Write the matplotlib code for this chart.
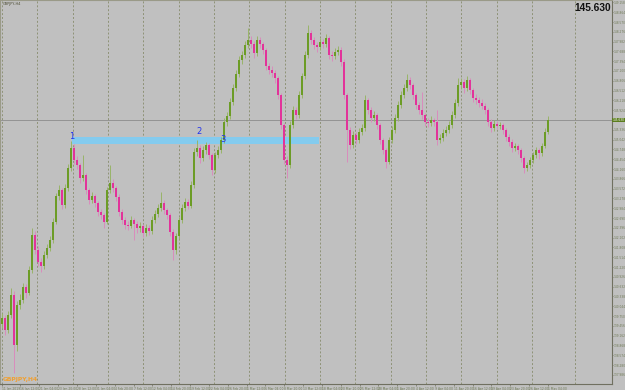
import numpy as np
import matplotlib.pyplot as plt

# GBPJPY H4, Jan - May 2019 (one candle here ~ 2.5 H4 bars)
symbol = "GBPJPY,H4"
last_price = 145.630
first_open = 139.50

close = [
    139.69, 139.33, 139.78, 140.38, 138.88, 140.08, 140.23, 140.62, 140.44, 141.13,
    142.18, 141.73, 141.37, 141.25, 141.58, 141.79, 142.03, 142.57, 143.35, 143.53,
    143.08, 143.59, 144.19, 144.79, 144.43, 144.28, 143.89, 143.98, 143.53, 143.23,
    143.35, 143.14, 142.87, 142.78, 142.57, 143.53, 143.74, 143.59, 143.32, 142.87,
    142.63, 142.48, 142.45, 142.63, 142.51, 142.39, 142.45, 142.24, 142.39, 142.30,
    142.63, 142.81, 142.99, 143.14, 142.93, 142.78, 142.27, 141.73, 142.15, 142.63,
    142.99, 143.17, 143.05, 143.68, 144.67, 144.79, 144.49, 144.73, 144.88, 144.58,
    144.13, 144.58, 144.73, 145.03, 145.57, 145.75, 146.17, 146.59, 147.01, 147.43,
    147.58, 147.88, 148.03, 147.91, 147.64, 148.03, 147.91, 147.73, 147.25, 147.13,
    147.04, 146.89, 146.38, 145.48, 144.43, 144.28, 145.48, 145.93, 145.78, 146.38,
    146.95, 147.58, 148.24, 148.03, 147.88, 147.82, 147.97, 147.91, 148.09, 147.58,
    147.55, 147.67, 147.73, 147.37, 146.38, 145.33, 144.88, 145.18, 145.03, 145.27,
    145.39, 146.23, 145.93, 145.69, 145.78, 145.48, 145.03, 144.73, 144.37, 145.03,
    145.33, 145.69, 146.08, 146.38, 146.59, 146.83, 146.68, 146.38, 146.08, 145.93,
    145.78, 145.57, 145.54, 145.63, 145.57, 145.03, 145.09, 145.24, 145.33, 145.48,
    145.78, 146.14, 146.68, 146.77, 146.59, 146.83, 146.53, 146.29, 146.23, 146.14,
    146.05, 145.93, 145.57, 145.39, 145.51, 145.45, 145.48, 145.33, 145.12, 144.97,
    144.79, 144.85, 144.73, 144.49, 144.19, 144.28, 144.43, 144.58, 144.73, 144.64,
    144.85, 145.27, 145.63,
]

high = [
    139.85, 139.78, 139.90, 140.59, 140.50, 140.20, 140.40, 140.75, 140.70, 141.25,
    142.39, 142.30, 141.85, 141.50, 141.70, 141.90, 142.15, 142.70, 143.45, 143.68,
    143.60, 143.70, 144.30, 145.00, 144.90, 144.55, 144.35, 144.58, 144.05, 143.60,
    143.48, 143.42, 143.20, 142.95, 142.85, 143.62, 144.28, 143.85, 143.66, 143.40,
    142.95, 142.72, 142.60, 142.75, 142.70, 142.60, 142.58, 142.52, 142.50, 142.48,
    142.75, 142.92, 143.10, 143.47, 143.22, 143.00, 142.85, 142.35, 142.25, 142.72,
    143.10, 143.30, 143.25, 143.80, 144.78, 145.03, 144.88, 144.85, 144.98, 144.95,
    144.65, 144.68, 144.85, 145.12, 145.68, 145.88, 146.30, 146.70, 147.12, 147.55,
    147.70, 148.00, 148.39, 148.15, 148.00, 148.15, 148.12, 147.98, 147.80, 147.35,
    147.25, 147.12, 146.95, 146.45, 145.55, 144.55, 145.60, 146.05, 146.02, 146.50,
    147.05, 147.70, 148.48, 148.33, 148.12, 147.98, 148.10, 148.06, 148.20, 148.15,
    147.70, 147.80, 147.85, 147.82, 147.45, 146.45, 145.42, 145.30, 145.28, 145.38,
    145.50, 146.38, 146.30, 146.02, 145.90, 145.85, 145.55, 145.10, 144.80, 145.12,
    145.45, 145.80, 146.20, 146.50, 146.70, 147.01, 146.92, 146.75, 146.45, 146.18,
    146.47, 145.85, 145.68, 145.75, 145.70, 145.93, 145.20, 145.35, 145.45, 145.60,
    145.90, 146.25, 146.89, 146.88, 146.85, 146.95, 146.90, 146.60, 146.40, 146.32,
    146.25, 146.15, 146.00, 145.65, 145.62, 145.60, 145.58, 145.55, 145.40, 145.20,
    145.05, 144.95, 144.92, 144.80, 144.55, 144.38, 144.52, 144.68, 144.82, 144.80,
    144.95, 145.38, 145.75,
]

low = [
    139.40, 139.18, 139.25, 139.70, 138.04, 138.70, 139.95, 140.15, 140.30, 140.38,
    141.05, 141.60, 141.25, 141.07, 141.15, 141.48, 141.70, 141.95, 142.50, 143.22,
    142.95, 143.00, 143.50, 144.10, 144.30, 144.15, 143.75, 143.80, 143.40, 143.10,
    143.15, 143.02, 142.75, 142.65, 142.39, 142.50, 143.45, 143.48, 143.20, 142.75,
    142.50, 142.36, 142.33, 142.38, 142.03, 142.25, 142.28, 142.12, 142.15, 142.18,
    142.22, 142.55, 142.72, 142.90, 142.82, 142.65, 142.15, 141.43, 141.62, 142.05,
    142.55, 142.90, 142.95, 142.98, 143.60, 144.55, 144.35, 144.40, 144.62, 144.45,
    143.98, 144.05, 144.50, 144.65, 144.95, 145.45, 145.65, 146.08, 146.50, 146.92,
    147.30, 147.48, 147.80, 147.78, 147.50, 147.55, 147.80, 147.60, 147.12, 147.00,
    146.92, 146.75, 146.25, 145.35, 144.30, 143.89, 144.20, 145.40, 145.65, 145.70,
    146.28, 146.85, 147.50, 147.90, 147.75, 147.68, 147.72, 147.78, 147.82, 147.45,
    147.40, 147.45, 147.58, 147.25, 146.25, 144.37, 144.75, 144.80, 144.90, 144.95,
    145.18, 145.30, 145.80, 145.58, 145.60, 145.35, 144.90, 144.60, 144.19, 144.30,
    144.95, 145.25, 145.60, 146.00, 146.30, 146.50, 146.55, 146.25, 145.95, 145.80,
    145.65, 145.45, 145.42, 145.45, 145.45, 144.88, 144.95, 145.00, 145.15, 145.25,
    145.40, 145.70, 146.05, 146.55, 146.45, 146.50, 146.40, 146.18, 146.12, 146.02,
    145.95, 145.82, 145.45, 145.28, 145.30, 145.35, 145.36, 145.22, 145.00, 144.85,
    144.68, 144.70, 144.60, 144.38, 144.04, 144.10, 144.18, 144.35, 144.50, 144.45,
    144.55, 144.78, 145.20,
]

date_labels = [
    "11 Jan 2019", "16 Jan 12:00", "21 Jan 04:00", "23 Jan 20:00", "28 Jan 12:00",
    "31 Jan 04:00", "4 Feb 20:00", "7 Feb 12:00", "12 Feb 04:00", "14 Feb 20:00",
    "19 Feb 12:00", "22 Feb 04:00", "26 Feb 20:00", "1 Mar 12:00", "6 Mar 04:00",
    "8 Mar 20:00", "13 Mar 12:00", "18 Mar 04:00", "20 Mar 20:00", "25 Mar 12:00",
    "28 Mar 04:00", "1 Apr 20:00", "4 Apr 12:00", "9 Apr 04:00", "11 Apr 20:00",
    "16 Apr 12:00", "19 Apr 04:00", "23 Apr 20:00", "26 Apr 12:00", "1 May 04:00",
]

# horizontal level drawn on the chart (price band) and its points 1, 2, 3
level_lo, level_hi = 144.92, 145.11
level_start, level_end = 23.3, 105.7
point_labels = ["1", "2", "3"]
point_x = [23.2, 65.7, 73.5]
point_y = [145.14, 145.30, 145.03]

bg = "#c0c0c0"
up_col, dn_col = "#6c9c26", "#e2339a"
up_wick, dn_wick = "#98b468", "#d98cbc"
small_font = ["Liberation Sans Narrow", "DejaVu Sans"]

n = len(close)
idx = np.arange(n)
c = np.array(close)
o = np.concatenate([[first_open], c[:-1]])
up = c >= o

fig = plt.figure(figsize=(6.25, 3.9), dpi=100, facecolor=bg)
ax = fig.add_axes([0, 6 / 390, 612 / 625, 384 / 390])
ax.set_facecolor(bg)

# weekly grid
grid_x = list(11.78 * np.arange(16)) + [191.0]
for gx in grid_x:
    ax.axvline(gx, color="#8e9276", lw=0.7, ls=(0, (2, 2)), zorder=0)

# level band
ax.fill_between([level_start, level_end], level_lo, level_hi,
                color="#84cbee", lw=0, zorder=1)

# current price line
ax.axhline(last_price, color="#8c8c8c", lw=0.6, zorder=1)

# candles
ax.vlines(idx[up], np.array(low)[up], np.array(high)[up], color=up_wick, lw=0.7, zorder=2)
ax.vlines(idx[~up], np.array(low)[~up], np.array(high)[~up], color=dn_wick, lw=0.7, zorder=2)
body = c - o
ax.bar(idx[up], body[up], bottom=o[up], width=0.55, color=up_col, lw=0, zorder=3)
ax.bar(idx[~up], body[~up], bottom=o[~up], width=0.55, color=dn_col, lw=0, zorder=3)

for t, px, py in zip(point_labels, point_x, point_y):
    ax.text(px, py, t, color="#2233ee", fontsize=6, ha="center", va="center", zorder=5)

ax.set_xlim(-2 / 3, 610 / 3)
ax.set_ylim(137.71, 149.23)

# axes frame
for side in ["top", "left"]:
    ax.spines[side].set_color("#9a9a88")
    ax.spines[side].set_linewidth(0.8)
for side in ["right", "bottom"]:
    ax.spines[side].set_color("#707060")
    ax.spines[side].set_linewidth(0.8)

# price scale on the right
yt = last_price + 0.294 * np.arange(-26, 13)
yt = yt[np.abs(yt - last_price) > 0.01]
ax.yaxis.tick_right()
ax.set_yticks(yt)
ax.set_yticklabels([f"{v:.3f}" for v in yt], family=small_font)
ax.tick_params(axis="y", length=0.8, width=0.5, color="#707060", pad=0.3,
               labelsize=2.1, labelcolor="#6f7a55")

# time scale
xt = [0.0] + [182 - 6.28 * (29 - k) for k in range(1, 30)]
ax.set_xticks(xt)
ax.set_xticklabels(date_labels, ha="left", family=small_font)
ax.tick_params(axis="x", length=1.5, width=0.5, color="#707060", pad=0.4,
               labelsize=2.2, labelcolor="#6f7a55")

# current price tag on the scale
ax.text(1.0015, last_price, f"{last_price:.3f}", transform=ax.get_yaxis_transform(),
        fontsize=2.1, family=small_font, color="white", va="center", ha="left",
        bbox=dict(boxstyle="square,pad=0.15", fc="#5b7d1e", ec="none"))

ax.text(0.004, 0.996, symbol, transform=ax.transAxes, fontsize=2.5,
        color="#4a4a30", va="top", ha="left")
ax.text(0.004, 0.006, symbol, transform=ax.transAxes, fontsize=4.3,
        color="#f0a030", va="bottom", ha="left", fontweight="bold")

fig.text(611 / 625, 1 - 3 / 390, f"{last_price:.3f}", ha="right", va="top",
         fontsize=7.3, fontweight="bold", family="Liberation Sans", color="#111111")

plt.savefig("out.png", dpi=100, facecolor=bg)
